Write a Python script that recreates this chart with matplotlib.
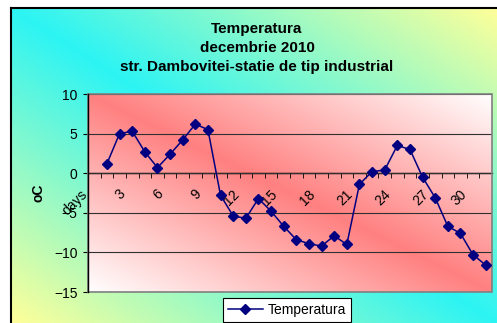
import numpy as np
import matplotlib
matplotlib.use('Agg')
import matplotlib.pyplot as plt
from matplotlib.colors import to_rgb
from matplotlib.patches import Rectangle
from matplotlib.transforms import ScaledTranslation

plt.rcParams['font.family'] = ['Liberation Sans', 'DejaVu Sans']

# --- data ---
days = list(range(1, 32))
temperatura = [1.2, 5.0, 5.3, 2.7, 0.7, 2.4, 4.2, 6.2, 5.5, -2.8,
               -5.4, -5.7, -3.2, -4.8, -6.7, -8.4, -8.9, -9.2, -7.9, -9.0,
               -1.4, 0.2, 0.4, 3.5, 3.0, -0.5, -3.1, -6.7, -7.6, -10.3, -11.6]
tick_pos = list(range(0, 31, 3))
tick_labels = ['days'] + [str(d) for d in range(3, 31, 3)]
y_ticks = [-15, -10, -5, 0, 5, 10]
title_lines = ['Temperatura', 'decembrie 2010', 'str. Dambovitei-statie de tip industrial']

W, H = 497, 323


def diag_gradient(c_mid, c_edge, n=256):
    """Excel-like diagonal blend: c_mid along the main diagonal, c_edge in the off corners."""
    u = np.linspace(0, 1, n)
    U, V = np.meshgrid(u, u)
    t = np.abs(U - V)[..., None]
    return (1 - t) * np.array(to_rgb(c_mid)) + t * np.array(to_rgb(c_edge))


fig = plt.figure(figsize=(W / 100, H / 100), dpi=100)
fig.patch.set_facecolor('white')

# chart area background
bg = fig.add_axes([11 / W, 0, 1 - 11 / W, 1 - 8 / H], zorder=-1)
bg.imshow(diag_gradient('#2cf4f4', '#ffff99'), extent=[0, 1, 0, 1],
          transform=bg.transAxes, aspect='auto', interpolation='bilinear')
bg.set_xticks([])
bg.set_yticks([])
for side in ['right', 'bottom']:
    bg.spines[side].set_visible(False)
for side in ['left', 'top']:
    bg.spines[side].set_linewidth(1.5)
    bg.spines[side].set_color('black')

# plot area
ax = fig.add_axes([88 / W, 1 - 292 / H, (492 - 88) / W, (292 - 94) / H])
ax.patch.set_visible(False)
ax.imshow(diag_gradient('#ff8080', '#ffffff'), extent=[0, 1, 0, 1],
          transform=ax.transAxes, aspect='auto', interpolation='bilinear', zorder=0)

ax.plot(days, temperatura, color='#000080', lw=1.1, marker='D', ms=5,
        mfc='#000080', mec='#000080', label='Temperatura', zorder=4)

ax.set_xlim(-0.5, 31.5)
ax.set_ylim(-15, 10)
ax.set_yticks(y_ticks)
ax.yaxis.grid(True, color='#303030', lw=0.8)
ax.set_axisbelow(False)

# x axis crosses at 0
ax.spines['bottom'].set_position(('data', 0))
ax.spines['bottom'].set_color('black')
ax.spines['bottom'].set_linewidth(1.0)
ax.spines['left'].set_color('black')
ax.spines['left'].set_linewidth(1.0)
ax.spines['left'].set_zorder(5)
for side in ['top', 'right']:
    ax.spines[side].set_visible(False)
ax.add_patch(Rectangle((0, 0), 1, 1, transform=ax.transAxes, fill=False,
                       ec='#808080', lw=1.2, clip_on=False, zorder=3))

ax.set_xticks(tick_pos)
ax.set_xticklabels(tick_labels)
ax.set_xticks(np.arange(0.5, 31.5, 1), minor=True)
ax.tick_params(axis='x', which='major', length=0, pad=13.5, labelsize=10)
ax.tick_params(axis='x', which='minor', length=3.6, direction='out', color='black')
ax.tick_params(axis='y', length=3.6, direction='out', pad=4, labelsize=10)
offset = ScaledTranslation(-9 / 100, 0, fig.dpi_scale_trans)
for lab in ax.get_xticklabels():
    lab.set_rotation(45)
    lab.set_ha('right')
    lab.set_va('center')
    lab.set_rotation_mode('anchor')
    lab.set_transform(lab.get_transform() + offset)

ax.set_ylabel('oC', fontsize=10, fontweight='bold')
ax.yaxis.set_label_coords(-0.105, 0.5)

# title, one line per baseline
for line, base in zip(title_lines, [33, 52, 71]):
    fig.text(257 / W, 1 - base / H, line, ha='center', va='baseline',
             fontsize=11, fontweight='bold')

leg = ax.legend(loc='upper left', bbox_to_anchor=(223 / W, 1 - 298 / H),
                bbox_transform=fig.transFigure, borderaxespad=0, fontsize=10,
                handlelength=2.5, handletextpad=0.4, borderpad=0.35,
                fancybox=False, framealpha=1, edgecolor='black')
leg.get_frame().set_linewidth(0.8)

fig.savefig('out.png', dpi=100)
